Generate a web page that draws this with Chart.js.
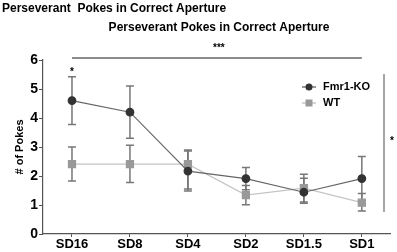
<!DOCTYPE html>
<html>
<head>
<meta charset="utf-8">
<script src="https://cdn.jsdelivr.net/npm/chart.js@4/dist/chart.umd.min.js"></script>
<style>
  html, body { margin: 0; padding: 0; background: #fff; }
  #wrap { width: 397px; height: 252px; }
</style>
</head>
<body>
<div id="wrap"><canvas id="chart" width="397" height="252"></canvas></div>
<script>
// Data
const categories = ['SD16', 'SD8', 'SD4', 'SD2', 'SD1.5', 'SD1'];
const koMean = [4.6, 4.2, 2.17, 1.91, 1.44, 1.91];
const koLow  = [3.78, 3.3, 1.48, 1.53, 1.06, 1.15];
const koHigh = [5.42, 5.1, 2.86, 2.29, 1.92, 2.67];
const wtMean = [2.41, 2.41, 2.41, 1.34, 1.58, 1.08];
const wtLow  = [1.83, 1.78, 1.55, 1.01, 1.1, 0.79];
const wtHigh = [3.0, 3.06, 2.9, 1.67, 2.06, 1.4];
const yTicks = [0, 1, 2, 3, 4, 5, 6];

const FONT = '"Liberation Sans", Arial, sans-serif';

// error bars, annotations, titles and legend
const extras = {
    id: 'extras',
    beforeDatasetsDraw(chart) {
        const ctx = chart.ctx;
        const x = chart.scales.x, y = chart.scales.y;
        const bars = [[koLow, koHigh], [wtLow, wtHigh]];
        ctx.save();
        ctx.strokeStyle = '#777';
        ctx.lineWidth = 1.5;
        bars.forEach(([lo, hi]) => {
            categories.forEach((c, i) => {
                const px = x.getPixelForValue(i);
                const y1 = y.getPixelForValue(lo[i]);
                const y2 = y.getPixelForValue(hi[i]);
                ctx.beginPath();
                ctx.moveTo(px, y1); ctx.lineTo(px, y2);
                ctx.moveTo(px - 4, y1); ctx.lineTo(px + 4, y1);
                ctx.moveTo(px - 4, y2); ctx.lineTo(px + 4, y2);
                ctx.stroke();
            });
        });
        ctx.restore();
    },
    afterDraw(chart) {
        const ctx = chart.ctx;
        const x = chart.scales.x;
        ctx.save();
        ctx.fillStyle = '#000';
        ctx.font = 'bold 12px ' + FONT;
        ctx.textBaseline = 'middle';
        ctx.textAlign = 'left';
        ctx.fillText('Perseverant  Pokes in Correct Aperture', 2, 9);
        ctx.textAlign = 'center';
        ctx.fillText('Perseverant Pokes in Correct Aperture', 219, 28);

        // significance bracket across sessions
        const x0 = x.getPixelForValue(0), x5 = x.getPixelForValue(5);
        ctx.strokeStyle = '#666';
        ctx.lineWidth = 1.3;
        ctx.beginPath();
        ctx.moveTo(x0, 58); ctx.lineTo(x5, 58);
        ctx.stroke();
        ctx.font = 'bold 10px ' + FONT;
        ctx.fillText('***', (x0 + x5) / 2 + 2, 48);
        ctx.fillText('*', x0, 72);

        // vertical bracket on the right
        ctx.strokeStyle = '#888';
        ctx.lineWidth = 1.5;
        ctx.beginPath();
        ctx.moveTo(384, 74); ctx.lineTo(384, 212);
        ctx.stroke();
        ctx.fillText('*', 392, 141);

        // legend
        const lx = 309;
        ctx.lineWidth = 1.2;
        ctx.strokeStyle = '#555';
        ctx.beginPath(); ctx.moveTo(lx - 7, 87); ctx.lineTo(lx + 7, 87); ctx.stroke();
        ctx.fillStyle = '#333';
        ctx.beginPath(); ctx.arc(lx, 87, 3.5, 0, Math.PI * 2); ctx.fill();
        ctx.strokeStyle = '#bbb';
        ctx.beginPath(); ctx.moveTo(lx - 7, 103); ctx.lineTo(lx + 7, 103); ctx.stroke();
        ctx.fillStyle = '#999';
        ctx.fillRect(lx - 3.5, 99.5, 7, 7);
        ctx.fillStyle = '#000';
        ctx.textAlign = 'left';
        ctx.font = 'bold 11px ' + FONT;
        ctx.fillText('Fmr1-KO', 323, 87);
        ctx.fillText('WT', 323, 103);
        ctx.restore();
    }
};

new Chart(document.getElementById('chart'), {
    type: 'line',
    data: {
        labels: categories,
        datasets: [{
            label: 'Fmr1-KO',
            data: koMean,
            borderColor: '#666',
            borderWidth: 1.2,
            pointStyle: 'circle',
            pointRadius: 3.8,
            pointBackgroundColor: '#333',
            pointBorderColor: '#333',
            tension: 0
        }, {
            label: 'WT',
            data: wtMean,
            borderColor: '#c4c4c4',
            borderWidth: 1.2,
            pointStyle: 'rect',
            pointRadius: 5,
            pointBackgroundColor: '#999',
            pointBorderColor: '#999',
            tension: 0
        }]
    },
    options: {
        responsive: false,
        animation: false,
        layout: { padding: { top: 60, right: 2, left: 0, bottom: 0 } },
        plugins: { legend: { display: false }, tooltip: { enabled: false } },
        scales: {
            x: {
                offset: true,
                grid: { display: true, drawOnChartArea: false, drawTicks: true, tickLength: 3, color: '#555' },
                border: { color: '#555', width: 1.2 },
                ticks: { color: '#000', font: { family: FONT, size: 13, weight: 'bold' }, padding: 0, maxRotation: 0 },
                afterFit(s) { s.height = 18; }
            },
            y: {
                min: 0, max: 6,
                grid: { display: true, drawOnChartArea: false, drawTicks: true, tickLength: 4, color: '#555' },
                border: { color: '#555', width: 1.2 },
                ticks: {
                    stepSize: 0.5,
                    color: '#000',
                    padding: 1,
                    font: { family: FONT, size: 14, weight: 'bold' },
                    callback: v => yTicks.includes(v) ? String(v) : ''
                },
                title: { display: true, text: '# of Pokes', color: '#000', font: { family: FONT, size: 11, weight: 'bold' }, padding: { top: 13, bottom: 0 } },
                afterFit(s) { s.width = 43; }
            }
        }
    },
    plugins: [extras]
});
</script>
</body>
</html>
